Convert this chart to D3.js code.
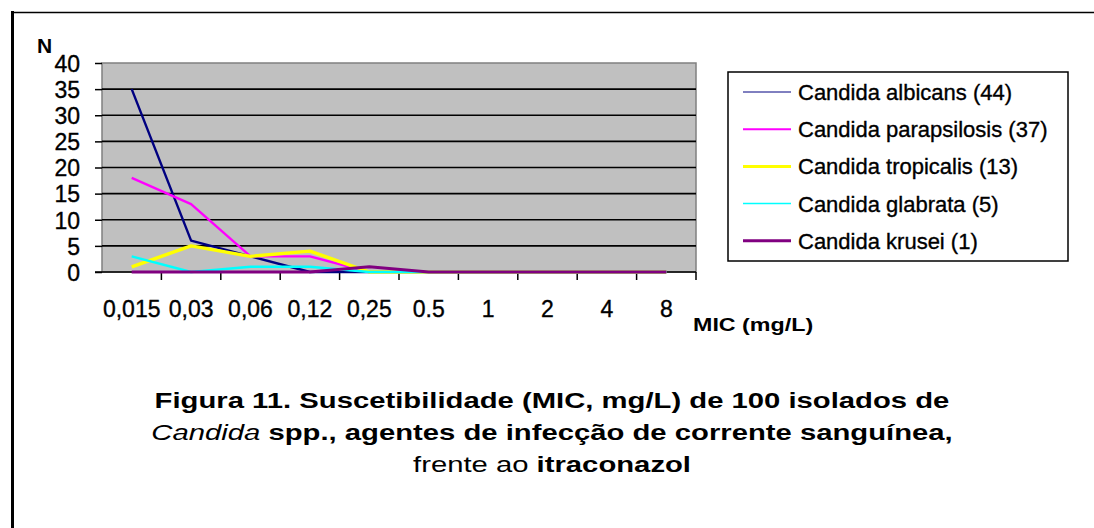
<!DOCTYPE html>
<html>
<head>
<meta charset="utf-8">
<script src="https://cdn.jsdelivr.net/npm/d3@7"></script>
<style>
	html, body { margin: 0; padding: 0; background: #fff; }
	svg { display: block; font-family: 'Liberation Sans', Arial, sans-serif; }
	.heavy { stroke: #000; stroke-width: 0.35px; }
</style>
</head>
<body>
<svg id="viz" width="1094" height="528"></svg>
<script>
var categories = [ '0,015', '0,03', '0,06', '0,12', '0,25', '0.5', '1', '2', '4', '8' ];
var yTicks = [ 0, 5, 10, 15, 20, 25, 30, 35, 40 ];

var seriesNames = [
	'Candida albicans (44)',
	'Candida parapsilosis (37)',
	'Candida tropicalis (13)',
	'Candida glabrata (5)',
	'Candida krusei (1)'
];
var albicans = [ 35, 6, 3, 0, 0, 0, 0, 0, 0, 0 ];
var parapsilosis = [ 18, 13, 3, 3, 0, 0, 0, 0, 0, 0 ];
var tropicalis = [ 1, 5, 3, 4, 0, 0, 0, 0, 0, 0 ];
var glabrata = [ 3, 0, 1, 1, 0, 0, 0, 0, 0, 0 ];
var krusei = [ 0, 0, 0, 0, 1, 0, 0, 0, 0, 0 ];

var colors = [ '#000080', '#ff00ff', '#ffff00', '#00ffff', '#800080' ];
var widths = [ 2.4, 2.4, 3.4, 2.4, 3 ];
var legendWidths = [ 1, 2, 3, 1.5, 3 ];

var captionLines = [
	[ { t: 'Figura 11. Suscetibilidade (MIC, mg/L) de 100 isolados de', w: 'bold', s: 'normal' } ],
	[ { t: 'Candida', w: 'normal', s: 'italic' }, { t: ' spp., agentes de infecção de corrente sanguínea,', w: 'bold', s: 'normal' } ],
	[ { t: 'frente ao ', w: 'normal', s: 'normal' }, { t: 'itraconazol', w: 'bold', s: 'normal' } ]
];

var series = [ albicans, parapsilosis, tropicalis, glabrata, krusei ];

var svg = d3.select( '#viz' );

// page frame
svg.append( 'line' )
	.attr( 'x1', 12.5 ).attr( 'x2', 12.5 ).attr( 'y1', 11 ).attr( 'y2', 528 )
	.attr( 'stroke', '#000' ).attr( 'stroke-width', 3 );
svg.append( 'line' )
	.attr( 'x1', 11 ).attr( 'x2', 1094 ).attr( 'y1', 12.5 ).attr( 'y2', 12.5 )
	.attr( 'stroke', '#000' ).attr( 'stroke-width', 1.5 );

var plotLeft = 102, plotRight = 696, plotTop = 63, plotBottom = 272;

var x = d3.scaleBand()
	.domain( categories )
	.range( [ plotLeft, plotRight ] );
var y = d3.scaleLinear()
	.domain( [ 0, 40 ] )
	.range( [ plotBottom, plotTop ] );
var bw = x.bandwidth();

// plot area
svg.append( 'rect' )
	.attr( 'x', plotLeft ).attr( 'y', plotTop )
	.attr( 'width', plotRight - plotLeft ).attr( 'height', plotBottom - plotTop )
	.attr( 'fill', '#c0c0c0' )
	.attr( 'stroke', '#808080' ).attr( 'stroke-width', 1.5 );

svg.selectAll( 'line.grid' )
	.data( yTicks.filter( function ( d ) { return d > 0 && d < 40; } ) )
	.enter()
	.append( 'line' )
	.classed( 'grid', true )
	.attr( 'x1', plotLeft ).attr( 'x2', plotRight )
	.attr( 'y1', function ( d ) { return y( d ); } )
	.attr( 'y2', function ( d ) { return y( d ); } )
	.attr( 'stroke', '#000' ).attr( 'stroke-width', 1.6 );

// y axis
var yAxis = svg.append( 'g' )
	.attr( 'transform', 'translate(' + plotLeft + ',0)' )
	.call( d3.axisLeft( y ).tickValues( yTicks ).tickSize( 7 ).tickPadding( 15 ) );
yAxis.select( '.domain' ).remove();
yAxis.selectAll( '.tick line' ).attr( 'stroke', '#000' ).attr( 'stroke-width', 1.5 );
yAxis.selectAll( '.tick text' )
	.classed( 'heavy', true )
	.attr( 'fill', '#000' )
	.style( 'font-size', '23px' )
	.style( 'font-family', "'Liberation Sans', Arial, sans-serif" )
	.attr( 'dy', '0.36em' );

// x axis
svg.append( 'line' )
	.attr( 'x1', plotLeft - 7 ).attr( 'x2', plotRight )
	.attr( 'y1', plotBottom ).attr( 'y2', plotBottom )
	.attr( 'stroke', '#000' ).attr( 'stroke-width', 1.5 );
svg.selectAll( 'line.xtick' )
	.data( categories )
	.enter()
	.append( 'line' )
	.classed( 'xtick', true )
	.attr( 'x1', function ( d ) { return x( d ) + bw; } )
	.attr( 'x2', function ( d ) { return x( d ) + bw; } )
	.attr( 'y1', plotBottom ).attr( 'y2', plotBottom + 8 )
	.attr( 'stroke', '#000' ).attr( 'stroke-width', 1.5 );
svg.selectAll( 'text.xlabel' )
	.data( categories )
	.enter()
	.append( 'text' )
	.classed( 'xlabel heavy', true )
	.attr( 'x', function ( d ) { return x( d ) + bw / 2; } )
	.attr( 'y', 317 )
	.attr( 'text-anchor', 'middle' )
	.style( 'font-size', '23px' )
	.text( function ( d ) { return d; } );

// lines
var line = d3.line()
	.x( function ( d, i ) { return x( categories[i] ) + bw / 2; } )
	.y( function ( d ) { return y( d ); } );

svg.selectAll( 'path.series' )
	.data( series )
	.enter()
	.append( 'path' )
	.classed( 'series', true )
	.attr( 'd', line )
	.attr( 'fill', 'none' )
	.attr( 'stroke', function ( d, i ) { return colors[i]; } )
	.attr( 'stroke-width', function ( d, i ) { return widths[i]; } )
	.attr( 'stroke-linejoin', 'round' );

// axis titles
svg.append( 'text' )
	.attr( 'x', 37 ).attr( 'y', 53 )
	.style( 'font-size', '21px' ).style( 'font-weight', 'bold' )
	.text( 'N' );
svg.append( 'text' )
	.attr( 'transform', 'translate(693,331) scale(1.33,1)' )
	.style( 'font-size', '17.5px' ).style( 'font-weight', 'bold' )
	.text( 'MIC (mg/L)' );

// legend
svg.append( 'rect' )
	.attr( 'x', 728 ).attr( 'y', 72 )
	.attr( 'width', 340 ).attr( 'height', 189 )
	.attr( 'fill', '#fff' )
	.attr( 'stroke', '#000' ).attr( 'stroke-width', 1.5 );
var legend = svg.selectAll( 'g.legend' )
	.data( seriesNames )
	.enter()
	.append( 'g' )
	.classed( 'legend', true )
	.attr( 'transform', function ( d, i ) { return 'translate(743,' + ( 92 + i * 37.2 ) + ')'; } );
legend.append( 'line' )
	.attr( 'x1', 0 ).attr( 'x2', 48 )
	.attr( 'stroke', function ( d, i ) { return colors[i]; } )
	.attr( 'stroke-width', function ( d, i ) { return legendWidths[i]; } );
legend.append( 'text' )
	.classed( 'heavy', true )
	.attr( 'x', 55 ).attr( 'dy', '0.36em' )
	.style( 'font-size', '22px' )
	.text( function ( d ) { return d; } );

// caption
var caption = svg.selectAll( 'text.caption' )
	.data( captionLines )
	.enter()
	.append( 'text' )
	.classed( 'caption', true )
	.attr( 'text-anchor', 'middle' )
	.attr( 'transform', function ( d, i ) { return 'translate(552,' + ( 408 + i * 32 ) + ') scale(1.33,1)'; } )
	.style( 'font-size', '22px' );
caption.selectAll( 'tspan' )
	.data( function ( d ) { return d; } )
	.enter()
	.append( 'tspan' )
	.style( 'font-weight', function ( d ) { return d.w; } )
	.style( 'font-style', function ( d ) { return d.s; } )
	.text( function ( d ) { return d.t; } );
</script>
</body>
</html>
